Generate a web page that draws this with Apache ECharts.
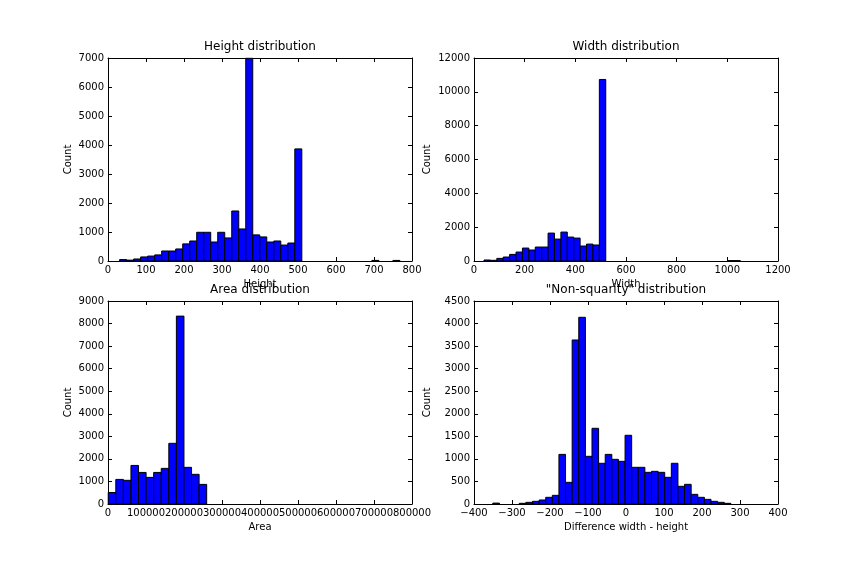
<!DOCTYPE html>
<html>
<head>
<meta charset="utf-8">
<title>Distributions</title>
<script src="https://cdn.jsdelivr.net/npm/echarts@6/dist/echarts.min.js"></script>
<style>
    html, body { margin: 0; padding: 0; background: #fff; }
    #echarts { width: 864px; height: 576px; }
</style>
</head>
<body>
<div id="echarts"></div>
<script>
// histogram data (40 bins each)
var heightStart = 30.6, heightBinW = 18.44;
var heightCounts = [50, 30, 70, 140, 170, 210, 345, 345, 415, 590,
                    690, 990, 990, 655, 990, 795, 1725, 1105, 6990, 900,
                    830, 655, 690, 550, 620, 3865, 0, 0, 0, 0,
                    0, 0, 0, 0, 0, 0, 20, 0, 0, 20];

var widthStart = 39.4, widthBinW = 25.3;
var widthCounts = [60, 40, 155, 235, 390, 530, 765, 650, 825, 825,
                   1650, 1295, 1710, 1415, 1355, 885, 1000, 945, 10730, 0,
                   0, 0, 0, 0, 0, 0, 0, 0, 0, 0,
                   0, 0, 0, 0, 0, 0, 0, 0, 20, 20];

var areaStart = 600, areaBinW = 19930;
var areaCounts = [510, 1090, 1050, 1710, 1400, 1180, 1400, 1580, 2690, 8330,
                  1625, 1315, 870, 0, 0, 0, 0, 0, 0, 0,
                  0, 0, 0, 0, 0, 0, 0, 0, 0, 0,
                  0, 0, 0, 0, 0, 0, 0, 0, 0, 0];

var diffStart = -350.5, diffBinW = 17.4;
var diffCounts = [20, 0, 0, 0, 15, 37, 59, 89, 148, 192,
                  1100, 480, 3636, 4139, 1057, 1678, 902, 1100, 990, 946,
                  1523, 813, 813, 702, 724, 702, 591, 902, 392, 436,
                  214, 148, 103, 59, 37, 15, 0, 0, 0, 0];

// axis ranges / ticks
var panels = [
    {title: 'Height distribution', xName: 'Height', xMin: 0, xMax: 800, xStep: 100, yMax: 7000, yStep: 1000,
     start: heightStart, binW: heightBinW, counts: heightCounts},
    {title: 'Width distribution', xName: 'Width', xMin: 0, xMax: 1200, xStep: 200, yMax: 12000, yStep: 2000,
     start: widthStart, binW: widthBinW, counts: widthCounts},
    {title: 'Area distribution', xName: 'Area', xMin: 0, xMax: 800000, xStep: 100000, yMax: 9000, yStep: 1000,
     start: areaStart, binW: areaBinW, counts: areaCounts},
    {title: '"Non-squarity" distribution', xName: 'Difference width - height', xMin: -400, xMax: 400, xStep: 100, yMax: 4500, yStep: 500,
     start: diffStart, binW: diffBinW, counts: diffCounts}
];

var FONT = 'DejaVu Sans';
var gridPos = [
    {left: 108, top: 58, width: 304, height: 203, yGap: 35},
    {left: 474, top: 58, width: 304, height: 203, yGap: 42},
    {left: 108, top: 301, width: 304, height: 203, yGap: 35},
    {left: 474, top: 301, width: 304, height: 203, yGap: 42}
];

window.onload = function(){
    var grids = [], xAxes = [], yAxes = [], titles = [], series = [];
    var line = {show: true, onZero: false, lineStyle: {color: '#000', width: 1}};
    var tick = {show: true, inside: true, length: 4, lineStyle: {color: '#000', width: 1}};
    var lbl = {color: '#000', fontFamily: FONT, fontSize: 10};
    function plain(v){ return String(v).replace('-', '\u2212'); }   // no thousands comma, real minus

    panels.forEach(function(p, i){
        var g = gridPos[i];
        grids.push({left: g.left, top: g.top, width: g.width, height: g.height});
        titles.push({
            text: p.title, left: g.left + g.width / 2, top: g.top - 17, textAlign: 'center', padding: 0,
            textStyle: {color: '#000', fontFamily: FONT, fontSize: 12, fontWeight: 'normal'}
        });
        // bottom + top x axes
        xAxes.push({
            type: 'value', gridIndex: i, position: 'bottom', min: p.xMin, max: p.xMax, interval: p.xStep,
            name: p.xName, nameLocation: 'middle', nameGap: 18, nameTextStyle: lbl,
            axisLine: line, axisTick: tick, splitLine: {show: false},
            axisLabel: Object.assign({margin: 4, formatter: plain, showMinLabel: true, showMaxLabel: true, hideOverlap: false}, lbl)
        });
        xAxes.push({
            type: 'value', gridIndex: i, position: 'top', min: p.xMin, max: p.xMax, interval: p.xStep,
            axisLine: line, axisTick: tick, splitLine: {show: false}, axisLabel: {show: false}
        });
        // left + right y axes
        yAxes.push({
            type: 'value', gridIndex: i, position: 'left', min: 0, max: p.yMax, interval: p.yStep,
            name: 'Count', nameLocation: 'middle', nameGap: g.yGap, nameTextStyle: lbl,
            axisLine: line, axisTick: tick, splitLine: {show: false},
            axisLabel: Object.assign({margin: 4, formatter: plain, showMinLabel: true, showMaxLabel: true}, lbl)
        });
        yAxes.push({
            type: 'value', gridIndex: i, position: 'right', min: 0, max: p.yMax, interval: p.yStep,
            axisLine: line, axisTick: tick, splitLine: {show: false}, axisLabel: {show: false}
        });
        // bins -> [left edge, right edge, count]
        var data = [];
        for (var k = 0; k < p.counts.length; k++) {
            if (p.counts[k] <= 0) continue;
            data.push([p.start + k * p.binW, p.start + (k + 1) * p.binW, p.counts[k]]);
        }
        series.push({
            type: 'custom', xAxisIndex: i * 2, yAxisIndex: i * 2, data: data,
            encode: {x: [0, 1], y: 2},
            renderItem: function(params, api){
                var a = api.coord([api.value(0), api.value(2)]);
                var b = api.coord([api.value(1), 0]);
                return {
                    type: 'rect',
                    shape: {x: a[0], y: a[1], width: b[0] - a[0], height: b[1] - a[1]},
                    style: {fill: '#0000ff', stroke: '#000', lineWidth: 1}
                };
            }
        });
    });

    var option = {
        backgroundColor: '#fff',
        animation: false,
        title: titles,
        grid: grids,
        xAxis: xAxes,
        yAxis: yAxes,
        series: series
    };
    var myChart = echarts.init(document.getElementById("echarts"));
    myChart.setOption(option);
};
</script>
</body>
</html>
